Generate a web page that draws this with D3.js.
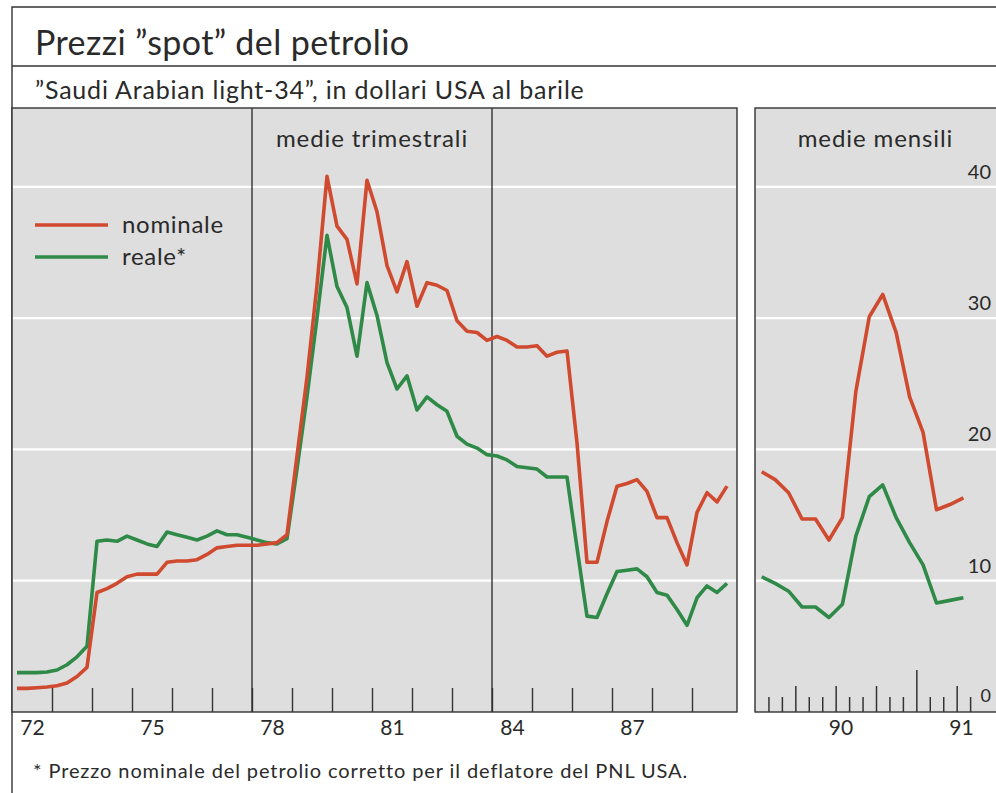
<!DOCTYPE html>
<html>
<head>
<meta charset="utf-8">
<title>Prezzi spot del petrolio</title>
<script src="https://d3js.org/d3.v7.min.js"></script>
<style>
body { margin: 0; background: #fff; }
svg { display: block; font-family: Lato, "Open Sans", sans-serif; }
</style>
</head>
<body>
<div id="root"></div>
<script>
// quarterly averages 1972 Q1 .. 1989 Q4 (dollars per barrel)
let quarter_nominal = [
    1.8, 1.8, 1.85, 1.9, 2.0, 2.2, 2.7, 3.4,
    9.1, 9.4, 9.8, 10.3, 10.5, 10.5, 10.5, 11.4,
    11.5, 11.5, 11.6, 12.0, 12.5, 12.6, 12.7, 12.7,
    12.7, 12.8, 12.9, 13.5, 19.5, 25.5, 32.5, 40.8,
    37.0, 36.0, 32.6, 40.5, 38.1, 34.0, 32.0, 34.3,
    30.9, 32.7, 32.5, 32.1, 29.8, 29.0, 28.9, 28.3,
    28.6, 28.3, 27.8, 27.8, 27.9, 27.1, 27.4, 27.5,
    20.5, 11.4, 11.4, 14.5, 17.2, 17.4, 17.7, 16.8,
    14.8, 14.8, 12.9, 11.2, 15.2, 16.7, 16.0, 17.2
];
let quarter_real = [
    3.0, 3.0, 3.0, 3.05, 3.2, 3.6, 4.2, 5.0,
    13.0, 13.1, 13.0, 13.4, 13.1, 12.8, 12.6, 13.7,
    13.5, 13.3, 13.1, 13.4, 13.8, 13.5, 13.5, 13.3,
    13.1, 12.9, 12.8, 13.2, 18.5, 24.0, 30.0, 36.3,
    32.4, 30.8, 27.1, 32.7, 30.2, 26.6, 24.6, 25.6,
    23.0, 24.0, 23.4, 22.9, 21.0, 20.4, 20.1, 19.6,
    19.5, 19.2, 18.7, 18.6, 18.5, 17.9, 17.9, 17.9,
    12.5, 7.3, 7.2, 9.0, 10.7, 10.8, 10.9, 10.3,
    9.1, 8.9, 7.8, 6.6, 8.7, 9.6, 9.1, 9.8
];
// monthly averages Jan 1990 .. Apr 1991
let month_nominal = [18.3, 17.7, 16.7, 14.7, 14.7, 13.1, 14.8, 24.4, 30.1, 31.8, 28.9, 24.0, 21.3, 15.4, 15.8, 16.3];
let month_real = [10.3, 9.8, 9.2, 8.0, 8.0, 7.2, 8.2, 13.4, 16.4, 17.3, 14.8, 12.9, 11.2, 8.3, 8.5, 8.7];

let year_labels_left = [72, 75, 78, 81, 84, 87];
let year_labels_right = [90, 91];
let y_ticks = [0, 10, 20, 30, 40];
let dividers = [1978, 1984];

let width = 996;
let height = 793;
let red = '#cf4a2f';
let green = '#2f8a48';
let panel_fill = '#dedede';
let ink = '#333';
let text_color = '#2a2a2a';
let line_w = 3.6;

let svg = d3.select('#root').append('svg')
    .attr('width', width)
    .attr('height', height);

let top_y = 108;
let base_y = 712;

let scale_y = d3.scaleLinear().domain([0, 46]).range([base_y, top_y]);
let scale_xl = d3.scaleLinear().domain([1972, 1990.125]).range([12, 737]);
let scale_xr = d3.scaleLinear().domain([1990, 1991.5]).range([755, 997]);

// frame
svg.append('path')
    .attr('d', `M12,${height} V7 H${width}`)
    .attr('fill', 'none').attr('stroke', ink).attr('stroke-width', 1.4);
svg.append('line').attr('x1', 12).attr('x2', width).attr('y1', 66).attr('y2', 66)
    .attr('stroke', ink).attr('stroke-width', 1.4);

svg.append('text')
    .attr('x', 35).attr('y', 55)
    .attr('font-size', 34).attr('letter-spacing', 0.4)
    .attr('fill', text_color)
    .text('Prezzi ”spot” del petrolio');
svg.append('text')
    .attr('x', 35).attr('y', 99)
    .attr('font-size', 25).attr('letter-spacing', 0.8)
    .attr('fill', text_color)
    .text('”Saudi Arabian light-34”, in dollari USA al barile');

// panels
let panels = [
    { x: scale_xl, x0: 12, x1: 737 },
    { x: scale_xr, x0: 755, x1: width + 2 }
];
panels.forEach(p => {
    svg.append('rect')
        .attr('x', p.x0).attr('y', top_y)
        .attr('width', p.x1 - p.x0).attr('height', base_y - top_y)
        .attr('fill', panel_fill).attr('stroke', ink).attr('stroke-width', 1.4);
    svg.append('g')
        .selectAll('line')
        .data(y_ticks.filter(d => d > 0))
        .join('line')
        .attr('x1', p.x0 + 1).attr('x2', p.x1 - 1)
        .attr('y1', d => scale_y(d)).attr('y2', d => scale_y(d))
        .attr('stroke', '#fff').attr('stroke-width', 2.2);
});

svg.append('g')
    .selectAll('line')
    .data(dividers)
    .join('line')
    .attr('x1', d => scale_xl(d)).attr('x2', d => scale_xl(d))
    .attr('y1', top_y).attr('y2', base_y)
    .attr('stroke', ink).attr('stroke-width', 1.4);

svg.append('text')
    .attr('x', (scale_xl(1978) + scale_xl(1984)) / 2).attr('y', 147)
    .attr('text-anchor', 'middle').attr('font-size', 24).attr('letter-spacing', 0.9)
    .attr('fill', text_color)
    .text('medie trimestrali');
svg.append('text')
    .attr('x', (755 + width) / 2).attr('y', 147)
    .attr('text-anchor', 'middle').attr('font-size', 24).attr('letter-spacing', 0.9)
    .attr('fill', text_color)
    .text('medie mensili');

// lines
let q_time = (d, i) => 1972 + (i + 0.5) / 4;
let m_time = (d, i) => 1990 + (i + 0.5) / 12;

let line_l = d3.line().x((d, i) => scale_xl(q_time(d, i))).y(d => scale_y(d));
let line_r = d3.line().x((d, i) => scale_xr(m_time(d, i))).y(d => scale_y(d));

[[quarter_real, green], [quarter_nominal, red]].forEach(([data, color]) => {
    svg.append('path')
        .datum(data)
        .attr('d', line_l)
        .attr('fill', 'none').attr('stroke', color)
        .attr('stroke-width', line_w).attr('stroke-linejoin', 'round');
});
[[month_real, green], [month_nominal, red]].forEach(([data, color]) => {
    svg.append('path')
        .datum(data)
        .attr('d', line_r)
        .attr('fill', 'none').attr('stroke', color)
        .attr('stroke-width', line_w).attr('stroke-linejoin', 'round');
});

// legend
let legend = svg.append('g').attr('transform', 'translate(35, 225)');
[['nominale', red], ['reale*', green]].forEach(([label, color], i) => {
    legend.append('line')
        .attr('x1', 0).attr('x2', 73)
        .attr('y1', i * 32).attr('y2', i * 32)
        .attr('stroke', color).attr('stroke-width', line_w);
    legend.append('text')
        .attr('x', 87).attr('y', i * 32 + 8)
        .attr('font-size', 24).attr('letter-spacing', 0.7)
        .attr('fill', text_color)
        .text(label);
});

// x axis, left panel
let axis_l = svg.append('g')
    .attr('transform', `translate(0, ${base_y})`)
    .call(d3.axisBottom(scale_xl)
        .tickValues(d3.range(1973, 1990))
        .tickSize(-24)
        .tickFormat(''));
axis_l.select('.domain').remove();
axis_l.selectAll('line').attr('stroke', ink).attr('stroke-width', 1.4);

let labels_l = svg.append('g')
    .attr('transform', `translate(0, ${base_y})`)
    .call(d3.axisBottom(scale_xl)
        .tickValues(year_labels_left.map(d => 1900 + d + 0.5))
        .tickSize(0)
        .tickPadding(8)
        .tickFormat(d => String(Math.floor(d) - 1900)));
labels_l.select('.domain').remove();
labels_l.selectAll('text').attr('font-size', 21).attr('font-family', 'Lato, sans-serif').attr('fill', text_color);

// x axis, right panel
let months = d3.range(1, 17).map(i => 1990 + i / 12);
let axis_r = svg.append('g')
    .attr('transform', `translate(0, ${base_y})`)
    .call(d3.axisBottom(scale_xr)
        .tickValues(months)
        .tickSize(0)
        .tickFormat(''));
axis_r.select('.domain').remove();
axis_r.selectAll('line')
    .attr('y2', (d, i) => (i + 1) % 12 === 0 ? -42 : (i + 1) % 3 === 0 ? -26 : -15)
    .attr('stroke', ink).attr('stroke-width', 1.5);

let labels_r = svg.append('g')
    .attr('transform', `translate(0, ${base_y})`)
    .call(d3.axisBottom(scale_xr)
        .tickValues(year_labels_right.map(d => {
            let start = Math.max(1900 + d, scale_xr.domain()[0]);
            let end = Math.min(1901 + d, scale_xr.invert(width));
            return (start + end) / 2 + 0.03;
        }))
        .tickSize(0)
        .tickPadding(8)
        .tickFormat(d => String(Math.floor(d) - 1900)));
labels_r.select('.domain').remove();
labels_r.selectAll('text').attr('font-size', 21).attr('font-family', 'Lato, sans-serif').attr('fill', text_color);

// y labels on the right
svg.append('g')
    .selectAll('text')
    .data(y_ticks)
    .join('text')
    .attr('x', 991)
    .attr('y', d => scale_y(d) - (d === 0 ? 10 : 8))
    .attr('text-anchor', 'end')
    .attr('font-size', d => d === 0 ? 18 : 20)
    .attr('fill', text_color)
    .text(d => d);

svg.append('text')
    .attr('x', 33).attr('y', 778)
    .attr('font-size', 20).attr('letter-spacing', 0.9)
    .attr('fill', text_color)
    .text('* Prezzo nominale del petrolio corretto per il deflatore del PNL USA.');
</script>
</body>
</html>
